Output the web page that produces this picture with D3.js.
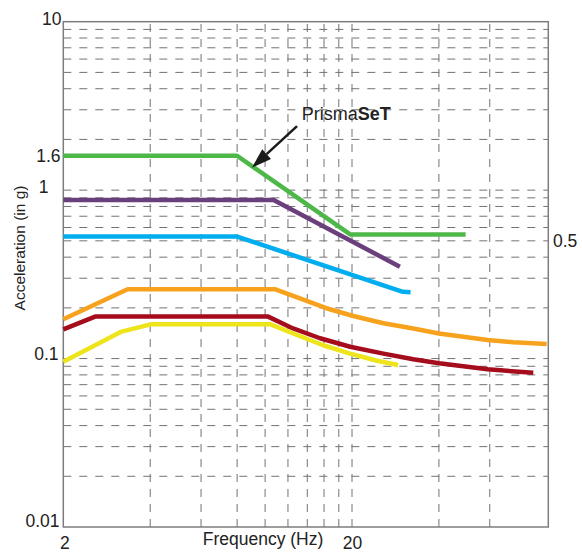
<!DOCTYPE html>
<html>
<head>
<meta charset="utf-8">
<script src="https://cdn.jsdelivr.net/npm/d3@7"></script>
<style>
  html, body { margin: 0; padding: 0; background: #fff; }
  svg { display: block; font-family: "Liberation Sans", Arial, sans-serif; }
</style>
</head>
<body>
<svg id="chart" width="582" height="552"></svg>
<script>
// ---- data ----
const xDomain = [2, 95.7];
const yDomain = [0.01, 10];

const greenFreq = [2, 8, 19.7, 49.5];
const greenAcc  = [1.6, 1.6, 0.546, 0.546];

const purpleFreq = [2, 10.7, 29.3];
const purpleAcc  = [0.873, 0.873, 0.351];

const blueFreq = [2, 8, 30.0, 31.9];
const blueAcc  = [0.53, 0.53, 0.249, 0.248];

const orangeFreq = [2, 3.34, 10.8, 13.2, 16.3, 20.2, 25.7, 32.6, 40, 59, 72.4, 94.5];
const orangeAcc  = [0.171, 0.258, 0.258, 0.228, 0.199, 0.179, 0.162, 0.151, 0.141, 0.129, 0.125, 0.122];

const redFreq = [2, 2.59, 10.2, 12.5, 15.5, 19.7, 25.7, 32.6, 40, 59, 84.9];
const redAcc  = [0.149, 0.178, 0.178, 0.151, 0.132, 0.1175, 0.107, 0.099, 0.0937, 0.0863, 0.0823];

const yellowFreq = [2, 3.16, 4.05, 10.4, 12.9, 15.9, 19.7, 24.4, 28.9];
const yellowAcc  = [0.0957, 0.144, 0.160, 0.160, 0.138, 0.120, 0.107, 0.097, 0.0915];

const seriesColors = ["#4db848", "#6b3f7c", "#00adee", "#f7a21d", "#a50d1d", "#ede41b"];

const xGridValues = [4, 6, 8, 10, 12, 14, 16, 18, 20, 40, 60];
const yGridValues = [0.02,0.03,0.04,0.05,0.06,0.07,0.08,0.09,0.1,0.2,0.3,0.4,0.5,0.6,0.7,0.8,0.9,1,2,3,4,5,6,7,8,9];

const yTickLabels = ["10", "1.6", "1", "0.1", "0.01"];
const yTickValues = [10, 1.6, 1, 0.1, 0.01];
const yRightLabels = ["0.5"];
const yRightValues = [0.5];
const xTickLabels = ["2", "20"];
const xTickValues = [2, 20];

const annotationText = ["Prisma", "SeT"];
const arrowFrom = [12.9, 2.4];
const arrowTo = [9.0, 1.36];
const annotationAt = [13.4, 2.6];

// ---- drawing ----
const svg = d3.select("#chart");
const x = d3.scaleLog().domain(xDomain).range([63.3, 548.3]);
const y = d3.scaleLog().domain(yDomain).range([527, 21.7]);

const gridColor = "#727272";
const grid = svg.append("g");
grid.selectAll("line.h").data(yGridValues).enter().append("line")
  .attr("x1", x(xDomain[0])).attr("x2", x(xDomain[1]))
  .attr("y1", d => y(d)).attr("y2", d => y(d))
  .attr("stroke", gridColor).attr("stroke-width", 1)
  .attr("stroke-dasharray", "8,8");
grid.selectAll("line.v").data(xGridValues).enter().append("line")
  .attr("y1", y(yDomain[0])).attr("y2", y(yDomain[1]))
  .attr("x1", d => x(d)).attr("x2", d => x(d))
  .attr("stroke", gridColor).attr("stroke-width", 1)
  .attr("stroke-dasharray", "8,7");

// frame
svg.append("rect")
  .attr("x", x(xDomain[0])).attr("y", y(yDomain[1]))
  .attr("width", x(xDomain[1]) - x(xDomain[0]))
  .attr("height", y(yDomain[0]) - y(yDomain[1]))
  .attr("fill", "none").attr("stroke", "#7d7d7d").attr("stroke-width", 1.5);

// series
const series = [
  [greenFreq, greenAcc], [purpleFreq, purpleAcc], [blueFreq, blueAcc],
  [orangeFreq, orangeAcc], [redFreq, redAcc], [yellowFreq, yellowAcc]
];
const line = d3.line().x(d => x(d[0])).y(d => y(d[1])).curve(d3.curveLinear);
series.forEach((s, i) => {
  const pts = s[0].map((f, j) => [f, s[1][j]]);
  svg.append("path").attr("d", line(pts))
    .attr("fill", "none").attr("stroke", seriesColors[i])
    .attr("stroke-width", 4.5).attr("stroke-linejoin", "round");
});

// y tick labels
const yLabelPos = { "10": [61.5, 3.5], "1.6": [60.5, 6.5], "1": [48.5, 3], "0.1": [58.5, 1.5], "0.01": [59.5, 0] };
yTickValues.forEach((v, i) => {
  const p = yLabelPos[yTickLabels[i]];
  svg.append("text").attr("x", p[0]).attr("y", y(v) + p[1])
    .attr("text-anchor", "end").attr("font-size", 17.5).attr("fill", "#222")
    .text(yTickLabels[i]);
});
yRightValues.forEach((v, i) => {
  svg.append("text").attr("x", 553).attr("y", y(v) + 6.5)
    .attr("text-anchor", "start").attr("font-size", 17.5).attr("fill", "#222")
    .text(yRightLabels[i]);
});
// x tick labels
xTickValues.forEach((v, i) => {
  svg.append("text").attr("x", x(v) + (i === 0 ? 1.5 : 0.5)).attr("y", 549)
    .attr("text-anchor", "middle").attr("font-size", 17.5).attr("fill", "#222")
    .text(xTickLabels[i]);
});

// axis titles
svg.append("text").attr("x", 263).attr("y", 545)
  .attr("text-anchor", "middle").attr("font-size", 17.5).attr("fill", "#222")
  .text("Frequency (Hz)");
svg.append("text")
  .attr("transform", "translate(25,248) rotate(-90)")
  .attr("text-anchor", "middle").attr("font-size", 15.5).attr("fill", "#222")
  .text("Acceleration (in g)");

// annotation
const ann = svg.append("text").attr("x", x(annotationAt[0])).attr("y", y(annotationAt[1]))
  .attr("font-size", 18).attr("fill", "#222");
ann.append("tspan").text(annotationText[0]);
ann.append("tspan").attr("font-weight", "bold").text(annotationText[1]);

const ax0 = x(arrowFrom[0]), ay0 = y(arrowFrom[1]);
const ax1 = x(arrowTo[0]), ay1 = y(arrowTo[1]);
const ang = Math.atan2(ay1 - ay0, ax1 - ax0);
const headLen = 20, headW = 6.5;
const bx = ax1 - headLen * Math.cos(ang), by = ay1 - headLen * Math.sin(ang);
svg.append("line").attr("x1", ax0).attr("y1", ay0).attr("x2", bx).attr("y2", by)
  .attr("stroke", "#1a1a1a").attr("stroke-width", 2.5);
svg.append("path")
  .attr("d", `M${ax1},${ay1} L${bx - headW * Math.sin(ang)},${by + headW * Math.cos(ang)} L${bx + headW * Math.sin(ang)},${by - headW * Math.cos(ang)} Z`)
  .attr("fill", "#1a1a1a");
</script>
</body>
</html>
